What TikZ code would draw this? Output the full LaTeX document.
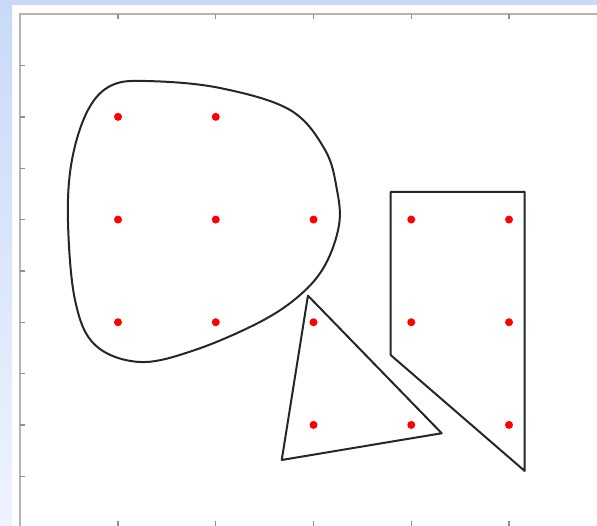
\documentclass[tikz,border=0pt]{standalone}
\usepackage{xcolor,tikz}
\usetikzlibrary{positioning}
\definecolor{winblue}{HTML}{C9D9F9}
\definecolor{winlight}{HTML}{EEF3FE}
\definecolor{frame}{HTML}{B4B4B4}
\tikzset{axis/.style={frame,line width=0.5mm},
  tick/.style={frame!80!black,line width=0.35mm},
  region/.style={draw=black!85,line width=0.5mm,line join=round},
  site/.style={circle,fill=red,inner sep=0pt,minimum size=2mm}}

\begin{document}
\begin{tikzpicture}[x=2.444cm,y=2.5675cm]
\useasboundingbox (-0.2072,0.0166) rectangle (5.9,5.138);
\fill[white] (-0.2072,0.0166) rectangle (5.9,5.138);
\fill[winblue] (-0.2072,5.09) rectangle (5.9,5.138);
\shade[top color=winblue,bottom color=winlight] (-0.2072,0.0166) rectangle (-0.084,5.09);
% frame and ticks
\draw[axis] (0,0.0166) -- (0,5) -- (5.9,5);
\foreach \y in {0.5,1,...,4.5}
  \draw[tick] (0,\y) -- ++(0.05,0);
\foreach \x in {1,...,5} {
  \draw[tick] (\x,5) -- ++(0,-0.05);
  \draw[tick] (\x,0.0166) -- ++(0,0.05);}
% regions
\draw[region] plot[smooth cycle,tension=0.6] coordinates {
  (0.939,4.309) (1.327,4.348) (2.043,4.281) (2.760,4.067) (3.118,3.678)
  (3.240,3.288) (3.261,2.947) (3.118,2.556) (2.862,2.265) (2.453,2.003)
  (1.788,1.730) (1.225,1.613) (0.765,1.779) (0.560,2.217) (0.488,2.996)
  (0.529,3.580) (0.693,4.067)};
\draw[region] (2.943,2.259) -- (4.311,0.919) -- (2.675,0.659) -- cycle;
\draw[region] (3.79,3.27) -- (5.16,3.27) -- (5.16,0.552) -- (3.79,1.68) -- cycle;
% lattice points
\foreach \p in {(1,4),(2,4),(1,3),(2,3),(3,3),(1,2),(2,2),(3,2),
  (4,3),(5,3),(4,2),(5,2),(3,1),(4,1),(5,1)}
  \node[site] at \p {};
\end{tikzpicture}
\end{document}
